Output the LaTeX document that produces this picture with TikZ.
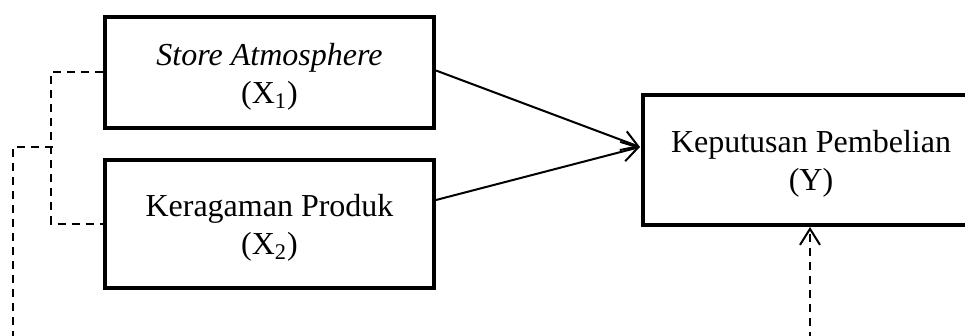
\documentclass[tikz,border=0pt]{standalone}
\usepackage{fontspec}
\setmainfont{Liberation Serif}
\usetikzlibrary{arrows.meta}

\begin{document}
\begin{tikzpicture}[x=0.5pt, y=-0.5pt,
  box/.style={draw, line width=2pt, minimum width=164.5pt, align=center, inner sep=0pt, font=\fontsize{16pt}{19pt}\selectfont},
  arr/.style={-{Straight Barb[length=8pt,width=10pt]}, line width=1pt},
  dashln/.style={line width=1pt, dash pattern=on 4pt off 3pt}]
\useasboundingbox (0,0) rectangle (965,336);
\clip (0,0) rectangle (965,336);
\node[box, minimum height=55.5pt] (x1) at (269.5,72.5) {\rule{0pt}{15pt}\textit{Store Atmosphere}\\(X\textsubscript{1})};
\node[box, minimum height=64pt] (x2) at (269.5,224) {\rule{0pt}{15pt}Keragaman Produk\\(X\textsubscript{2})};
\node[box, minimum width=168pt, minimum height=65pt] (y) at (811,160) {\rule{0pt}{15pt}Keputusan Pembelian\\(Y)};
\coordinate (meet) at (640,147);
\draw[arr] ([yshift=1pt]x1.east) -- (meet);
\draw[arr] ([yshift=12pt]x2.east) -- (meet);
% Dashed links:
\draw[dashln] (x1.west) -- ++(-52,0) |- (x2.west);
\coordinate (brk) at (53,147);
\coordinate (lowL) at (13,340);
\coordinate (lowR) at (810,340);
\draw[dashln] (brk) -| (lowL);
\draw[dashln, arr] (lowR) -- (lowR |- y.south);
\end{tikzpicture}
\end{document}
